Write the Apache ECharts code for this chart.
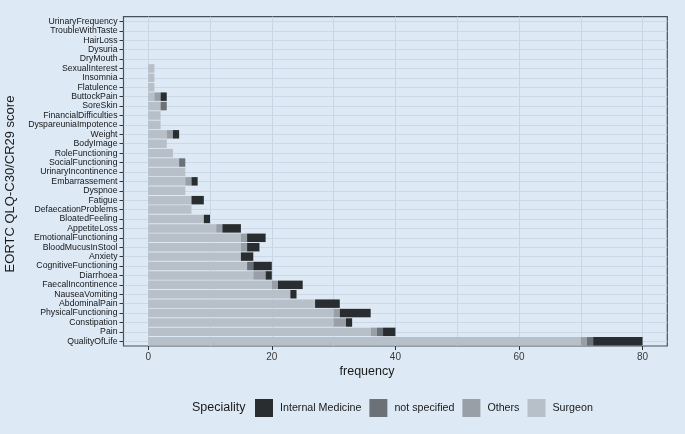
<!DOCTYPE html>
<html>
<head>
<meta charset="utf-8">
<script src="https://cdn.jsdelivr.net/npm/echarts@6/dist/echarts.min.js"></script>
<style>
  html, body { margin: 0; padding: 0; background: #dde9f5; }
  #main { width: 685px; height: 434px; }
</style>
</head>
<body>
<div id="main"></div>
<script>
// categories from top to bottom
var categories = ['UrinaryFrequency', 'TroubleWithTaste', 'HairLoss', 'Dysuria', 'DryMouth',
  'SexualInterest', 'Insomnia', 'Flatulence', 'ButtockPain', 'SoreSkin', 'FinancialDifficulties',
  'DyspareuniaImpotence', 'Weight', 'BodyImage', 'RoleFunctioning', 'SocialFunctioning',
  'UrinaryIncontinence', 'Embarrassement', 'Dyspnoe', 'Fatigue', 'DefaecationProblems',
  'BloatedFeeling', 'AppetiteLoss', 'EmotionalFunctioning', 'BloodMucusInStool', 'Anxiety',
  'CognitiveFunctioning', 'Diarrhoea', 'FaecalIncontinence', 'NauseaVomiting', 'AbdominalPain',
  'PhysicalFunctioning', 'Constipation', 'Pain', 'QualityOfLife'];

var surgeon      = [0,0,0,0,0, 1,1,1,1,2, 2,2,3,3,4, 5,6,6,6,7, 7,9,11,15,15, 15,16,17,20,23, 27,30,30,36,70];
var others       = [0,0,0,0,0, 0,0,0,1,0, 0,0,1,0,0, 0,0,1,0,0, 0,0,1,1,1, 0,0,2,1,0, 0,1,2,1,1];
var notSpecified = [0,0,0,0,0, 0,0,0,0,1, 0,0,0,0,0, 1,0,0,0,0, 0,0,0,0,0, 0,1,0,0,0, 0,0,0,1,1];
var internalMed  = [0,0,0,0,0, 0,0,0,1,0, 0,0,1,0,0, 0,0,1,0,2, 0,1,3,3,2, 2,3,1,4,1, 4,5,1,2,8];

var majorTicks = [0, 20, 40, 60, 80];
var minorTicks = [10, 30, 50, 70];

var chart = echarts.init(document.getElementById('main'));

function bar(name, data, color) {
  return {
    name: name, type: 'bar', stack: 'all', data: data,
    barCategoryGap: '10%',
    itemStyle: { color: color },
    emphasis: { disabled: true }
  };
}

chart.setOption({
  backgroundColor: '#dde9f5',
  animation: false,
  grid: {
    left: 123.5, right: 17.7, top: 16.7, bottom: 88,
    show: true, backgroundColor: '#dde9f5', borderColor: '#48515b', borderWidth: 1.2
  },
  xAxis: [{
    type: 'value', min: -4, max: 84,
    axisLine: { show: false, onZero: false },
    axisTick: { show: true, customValues: majorTicks, length: 4, lineStyle: { color: '#333' } },
    axisLabel: { customValues: majorTicks, color: '#3a3a3a', fontSize: 10, margin: 6, fontFamily: 'Liberation Sans' },
    splitLine: { show: true, lineStyle: { color: '#c9d6e4', width: 1 } }
  }, {
    type: 'value', min: -4, max: 84, position: 'bottom',
    axisLine: { show: false, onZero: false },
    axisTick: { show: false, customValues: minorTicks },
    axisLabel: { show: false },
    splitLine: { show: true, lineStyle: { color: '#c9d6e4', width: 1 } }
  }],
  yAxis: {
    type: 'category', data: categories, inverse: true,
    axisLine: { show: false, onZero: false },
    axisTick: { show: true, alignWithLabel: true, interval: 0, length: 4, lineStyle: { color: '#333' } },
    axisLabel: { interval: 0, color: '#161616', fontSize: 8.7, margin: 6, fontFamily: 'Liberation Sans' },
    splitLine: { show: true, interval: 0, alignWithLabel: true, lineStyle: { color: '#ccd8e5', width: 1 } }
  },
  legend: {
    data: ['Internal Medicine', 'not specified', 'Others', 'Surgeon'],
    left: 255, top: 399, padding: 0, itemWidth: 18, itemHeight: 18, itemGap: 8,
    icon: 'rect',
    textStyle: { color: '#1a1a1a', fontSize: 10.7, fontFamily: 'Liberation Sans', padding: [0, 0, 0, 2] }
  },
  graphic: [{
    type: 'text', x: 192, y: 408,
    style: { text: 'Speciality', fill: '#1a1a1a', font: '12.5px "Liberation Sans"', verticalAlign: 'middle' }
  }, {
    type: 'text', x: 367, y: 372,
    style: { text: 'frequency', fill: '#1a1a1a', font: '12.5px "Liberation Sans"', align: 'center', verticalAlign: 'middle' }
  }, {
    type: 'text', x: 10, y: 184, rotation: Math.PI / 2,
    style: { text: 'EORTC QLQ-C30/CR29 score', fill: '#1a1a1a', font: '13px "Liberation Sans"', align: 'center', verticalAlign: 'middle' }
  }],
  series: [
    bar('Surgeon', surgeon, '#b7bfc8'),
    bar('Others', others, '#999fa6'),
    bar('not specified', notSpecified, '#6c7077'),
    bar('Internal Medicine', internalMed, '#2a2d30')
  ]
});
</script>
</body>
</html>
